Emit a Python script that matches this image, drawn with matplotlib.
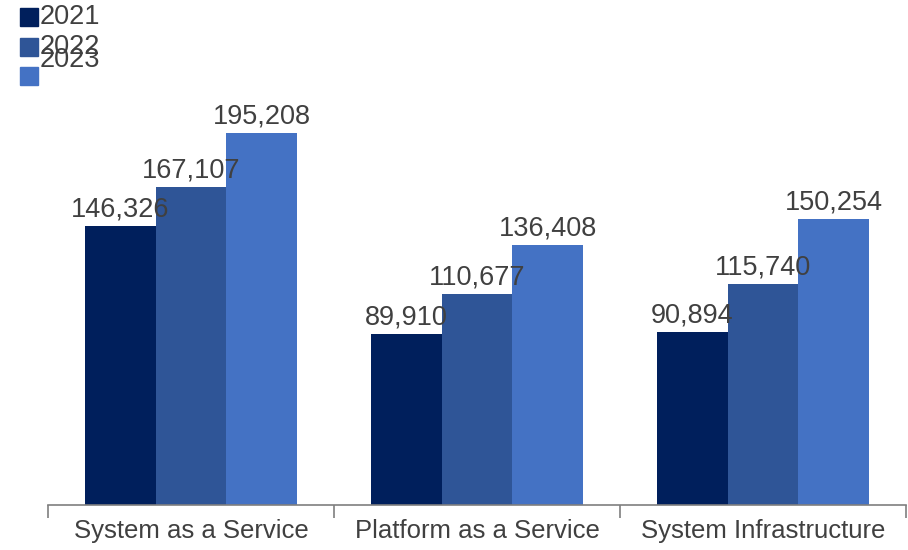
import matplotlib.pyplot as plt
from matplotlib.patches import Rectangle

plt.rcParams['font.family'] = ['Liberation Sans', 'DejaVu Sans']

# Revenue by segment and year
categories = ["System as a Service", "Platform as a Service", "System Infrastructure"]
years = ["2021", "2022", "2023"]
values_2021 = [146326, 89910, 90894]
values_2022 = [167107, 110677, 115740]
values_2023 = [195208, 136408, 150254]

colors = ["#001f5c", "#2f5597", "#4472c4"]
text_color = "#404040"

fig = plt.figure(figsize=(9.08, 5.5), dpi=100)
ax = fig.add_axes([48 / 908, 45 / 550, 858 / 908, 405 / 550])

width = 0.248
series = [values_2021, values_2022, values_2023]
x = range(len(categories))
for i, vals in enumerate(series):
    pos = [xi + (i - 1) * width for xi in x]
    ax.bar(pos, vals, width=width, color=colors[i], linewidth=0)
    for p, v in zip(pos, vals):
        ax.text(p, v + 1800, f"{v:,}", ha="center", va="bottom",
                fontsize=19.5, color=text_color)

ax.set_xlim(-0.5, 2.5)
ax.set_ylim(0, 212500)

# Category axis: only the baseline with boundary ticks
for s in ["top", "right", "left"]:
    ax.spines[s].set_visible(False)
ax.spines["bottom"].set_color("#7f7f7f")
ax.spines["bottom"].set_linewidth(1.2)
ax.set_yticks([])
ax.set_xticks(list(x))
ax.set_xticklabels(categories, fontsize=18.5, color=text_color)
ax.tick_params(axis="x", which="major", length=0, pad=10)
ax.set_xticks([-0.5, 0.5, 1.5, 2.5], minor=True)
ax.tick_params(axis="x", which="minor", length=9, width=1.2, color="#7f7f7f")

# Legend drawn by hand in the top-left corner
legend_y = [17, 47, 76]
label_y = [17, 47, 60]
for yr, c, ly, ty in zip(years, colors, legend_y, label_y):
    fig.add_artist(Rectangle((20 / 908, 1 - (ly + 9) / 550), 18 / 908, 18 / 550,
                             transform=fig.transFigure, color=c))
    fig.text(40 / 908, 1 - ty / 550, yr, fontsize=19.5, color=text_color,
             ha="left", va="center")

fig.savefig("out.png", dpi=100)
